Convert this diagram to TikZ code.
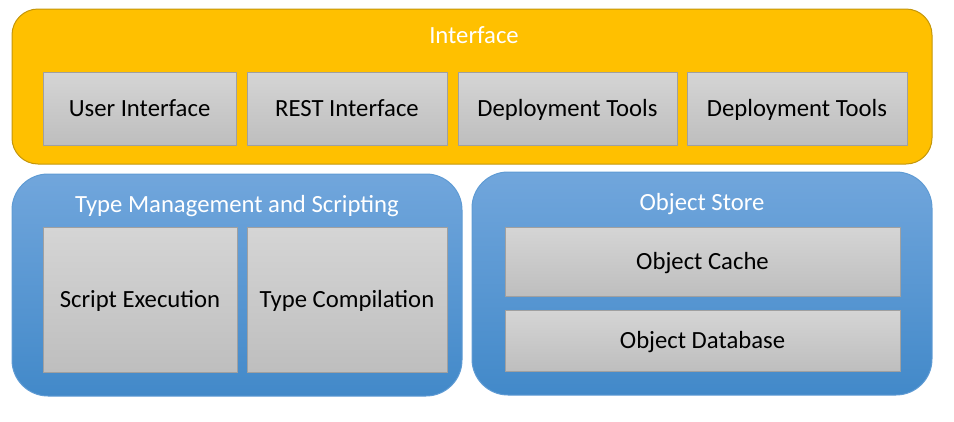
\documentclass[tikz,border=0pt]{standalone}
\usepackage{fontspec}
\setmainfont{Carlito}
\definecolor{orangefill}{RGB}{255,192,0}
\definecolor{orangeline}{RGB}{196,150,10}
\definecolor{bluetop}{RGB}{113,166,220}
\definecolor{bluebot}{RGB}{66,137,201}
\definecolor{blueline}{RGB}{95,155,212}
\definecolor{graytop}{RGB}{213,213,213}
\definecolor{graybot}{RGB}{190,190,190}
\definecolor{grayline}{RGB}{160,160,160}
\tikzset{
  outerorange/.style={draw=orangeline, fill=orangefill, line width=1pt, rounded corners=26pt, inner sep=0pt},
  outerblue/.style={draw=blueline, top color=bluetop, bottom color=bluebot, line width=1pt, rounded corners=36pt, inner sep=0pt},
  inner/.style={draw=grayline, top color=graytop, bottom color=graybot, line width=1pt, inner sep=0pt, font=\fontsize{24.7}{28}\selectfont, text=black, text height=15.9pt, text depth=0pt},
  title/.style={font=\fontsize{24.7}{28}\selectfont, text=white, inner sep=0pt, text height=15.9pt, text depth=0pt}
}
\begin{document}
\begin{tikzpicture}[x=1pt,y=-1pt]
\useasboundingbox (0,0) rectangle (954,421);
% Interface
\node[outerorange, minimum width=920pt, minimum height=155pt] (iface) at (472,86.5) {};
\node[title] (ifacet) at (474,36) {Interface};
\node[inner, minimum width=193pt, minimum height=73pt] (ui) at (139.5,108.5) {User Interface};
\node[inner, minimum width=200pt, minimum height=73pt] (rest) at (347,108.5) {REST Interface};
\node[inner, minimum width=219pt, minimum height=73pt] (dt1) at (567.5,108.5) {Deployment Tools};
\node[inner, minimum width=220pt, minimum height=73pt] (dt2) at (797,108.5) {Deployment Tools};
% Type Management
\node[outerblue, minimum width=450pt, minimum height=222pt] (tm) at (237,285) {};
\node[title] (tmt) at (237,205) {Type Management and Scripting};
\node[inner, minimum width=194pt, minimum height=145pt] (se) at (140,299.5) {Script Execution};
\node[inner, minimum width=200pt, minimum height=145pt] (tc) at (347,299.5) {Type Compilation};
% Object Store
\node[outerblue, minimum width=460pt, minimum height=223pt] (os) at (702,283.5) {};
\node[title] (ost) at (702,203) {Object Store};
\node[inner, minimum width=395pt, minimum height=69pt] (oc) at (702.5,261.5) {Object Cache};
\node[inner, minimum width=395pt, minimum height=61pt] (odb) at (702.5,340.5) {Object Database};
\end{tikzpicture}
\end{document}
